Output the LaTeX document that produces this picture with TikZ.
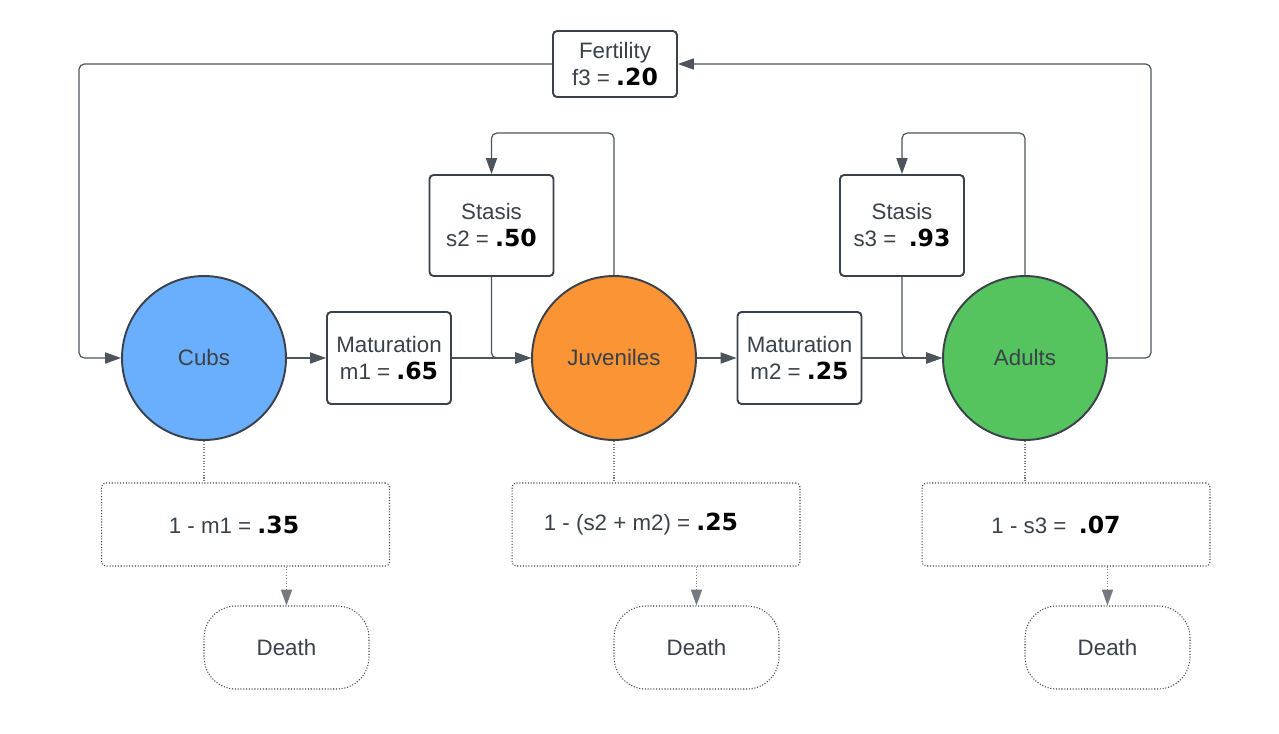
\documentclass[tikz,border=0pt]{standalone}
\usepackage{fontspec}
\setmainfont{Liberation Sans}
\newfontfamily\numfont{DejaVu Sans}
\usetikzlibrary{arrows.meta,positioning}

\definecolor{ink}{HTML}{3A414A}
\definecolor{cubsblue}{HTML}{6AAFFD}
\definecolor{juvorange}{HTML}{FB9434}
\definecolor{adultgreen}{HTML}{55C35E}

\newcommand{\val}[1]{{\numfont\bfseries\fontsize{13.4}{15.4}\selectfont\color{black}#1}}

\tikzset{
  stage/.style={circle,draw=ink,line width=1.1pt,minimum size=3.28cm,inner sep=0pt},
  rate/.style={draw=ink,line width=1.1pt,rounded corners=2.3pt,fill=white,align=center,
    minimum width=2.48cm,minimum height=1.84cm,inner sep=0pt},
  loss/.style={draw=ink,densely dotted,line width=0.6pt,rounded corners=2.3pt,
    minimum width=5.76cm,minimum height=1.66cm},
  death/.style={draw=ink,densely dotted,line width=0.6pt,rounded corners=0.64cm,
    minimum width=3.3cm,minimum height=1.66cm},
  flow/.style={draw=ink!90,line width=0.7pt,rounded corners=3pt,-{Triangle[length=9pt,width=6.3pt]}},
  tie/.style={draw=ink!70,densely dotted,line width=0.6pt}
}

\begin{document}
\begin{tikzpicture}[x=0.02cm,y=-0.02cm,text=ink,font=\fontsize{12.7}{15.4}\selectfont]
\useasboundingbox (0,0) rectangle (1279,734);

% life stages
\node[stage,fill=cubsblue]   (cubs) at (204,358)  {Cubs};
\node[stage,fill=juvorange]  (juv)  at (614,358)  {Juveniles};
\node[stage,fill=adultgreen] (adu)  at (1025,358) {Adults};

% transition rates
\node[rate] (m1)   at (389,358)   {Maturation\\m1 = \val{.65}};
\node[rate] (m2)   at (799.5,358) {Maturation\\m2 = \val{.25}};
\node[rate,minimum height=2.02cm] (s2) at (491.5,225.5) {Stasis\\s2 = \val{.50}};
\node[rate,minimum height=2.02cm] (s3) at (902,225.5)   {Stasis\\s3 = \ \val{.93}};
\node[rate,minimum height=1.32cm] (fert) at (615,64)    {Fertility\\f3 = \val{.20}};

% mortality
\node[loss] (loss1) at (245.5,524.5) {1 - m1 = \val{.35}\hspace*{0.46cm}};
\node[loss] (loss2) at (656,524.5)   {1 - (s2 + m2) = \val{.25}\hspace*{0.6cm}};
\node[loss] (loss3) at (1066,524.5)  {1 - s3 = \ \val{.07}\hspace*{0.4cm}};
\node[death] (death1) at (286.5,647.5)  {Death};
\node[death] (death2) at (696.5,647.5)  {Death};
\node[death] (death3) at (1107.5,647.5) {Death};

% flows
\draw[flow] (cubs) -- (m1);
\draw[flow] (m1) -- (juv);
\draw[flow] (juv) -- (m2);
\draw[flow] (m2) -- (adu);
\draw[flow] (s2.south) |- (juv.west);
\draw[flow] (s3.south) |- (adu.west);
\draw[flow] (juv.north) -- ++(0,-142) -| (s2.north);
\draw[flow] (adu.north) -- ++(0,-142) -| (s3.north);
\draw[flow] (adu.east) -- ++(43,0) |- (fert.east);
\draw[flow] (fert.west) -- ++(-473,0) |- (cubs.west);

% deaths
\foreach \s/\l/\d in {cubs/loss1/death1,juv/loss2/death2,adu/loss3/death3}{
  \draw[tie] (\s.south) -- (\s.south |- \l.north);
  \draw[tie,-{Triangle[length=9pt,width=6.3pt]}] (\l.south -| \d.north) -- (\d.north);
}
\end{tikzpicture}
\end{document}
